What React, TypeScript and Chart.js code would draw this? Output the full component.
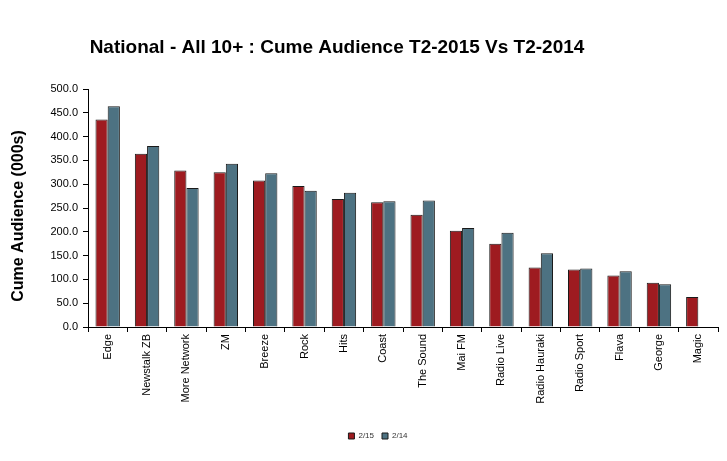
import { useEffect, useRef } from "react";
import { Chart, registerables } from "chart.js";

Chart.register(...registerables);

const stations = [
  "Edge",
  "Newstalk ZB",
  "More Network",
  "ZM",
  "Breeze",
  "Rock",
  "Hits",
  "Coast",
  "The Sound",
  "Mai FM",
  "Radio Live",
  "Radio Hauraki",
  "Radio Sport",
  "Flava",
  "George",
  "Magic",
];

const cume2015 = [436, 364, 329, 325, 308, 296, 269, 262, 236, 202, 175, 125, 121, 108, 93, 63];
const cume2014 = [464, 380, 292, 343, 323, 286, 282, 264, 266, 208, 198, 155, 123, 117, 90, null];

const seriesLabels = ["2/15", "2/14"];

const FONT = "Arial, 'Liberation Sans', sans-serif";

// titles are drawn by hand so they can sit where the original puts them
const titlesPlugin = {
  id: "titles",
  afterDraw(chart: Chart) {
    const { ctx } = chart;
    ctx.save();
    ctx.fillStyle = "#000";
    ctx.font = `bold 19px ${FONT}`;
    ctx.textAlign = "center";
    ctx.textBaseline = "middle";
    ctx.fillText("National - All 10+ : Cume Audience T2-2015 Vs T2-2014", 337, 48);
    ctx.translate(19, 216);
    ctx.rotate(-Math.PI / 2);
    ctx.font = `bold 16px ${FONT}`;
    ctx.fillText("Cume Audience (000s)", 0, 0);
    ctx.restore();
  },
};

export default function App() {
  const canvasRef = useRef<HTMLCanvasElement | null>(null);

  useEffect(() => {
    document.body.style.margin = "0";
    const canvas = canvasRef.current;
    if (!canvas) return;

    const chart = new Chart(canvas, {
      type: "bar",
      data: {
        labels: stations,
        datasets: [
          {
            label: seriesLabels[0],
            data: cume2015,
            backgroundColor: "#9e1b20",
            borderColor: "#1a1a1a",
            borderWidth: 1,
            borderSkipped: "bottom",
          },
          {
            label: seriesLabels[1],
            data: cume2014,
            backgroundColor: "#4d7282",
            borderColor: "#1a1a1a",
            borderWidth: 1,
            borderSkipped: "bottom",
          },
        ],
      },
      options: {
        animation: false,
        responsive: false,
        layout: { padding: { top: 89, left: 38, right: 9, bottom: 11 } },
        plugins: {
          title: { display: false },
          tooltip: { enabled: false },
          legend: {
            position: "bottom",
            labels: {
              boxWidth: 6,
              boxHeight: 6,
              padding: 8,
              color: "#333",
              font: { family: FONT, size: 8 },
            },
          },
        },
        datasets: {
          bar: { categoryPercentage: 0.62, barPercentage: 1.0 },
        },
        scales: {
          x: {
            afterFit: (scale) => {
              scale.height = 97;
            },
            border: { color: "#000", width: 1 },
            grid: {
              offset: true,
              drawOnChartArea: false,
              drawTicks: true,
              tickLength: 5,
              color: "#000",
            },
            ticks: {
              minRotation: 90,
              maxRotation: 90,
              autoSkip: false,
              color: "#000",
              padding: 2,
              font: { family: FONT, size: 11 },
            },
          },
          y: {
            min: 0,
            max: 500,
            afterFit: (scale) => {
              scale.width = 50;
            },
            border: { color: "#000", width: 1 },
            grid: {
              drawOnChartArea: false,
              drawTicks: true,
              tickLength: 5,
              color: "#000",
            },
            ticks: {
              stepSize: 50,
              color: "#000",
              padding: 5,
              font: { family: FONT, size: 11 },
              callback: (v) => Number(v).toFixed(1),
            },
          },
        },
      },
      plugins: [titlesPlugin],
    });

    return () => {
      chart.destroy();
    };
  }, []);

  return (
    <div style={{ width: 727, height: 461, background: "#fff" }}>
      <canvas ref={canvasRef} width={727} height={461} />
    </div>
  );
}
